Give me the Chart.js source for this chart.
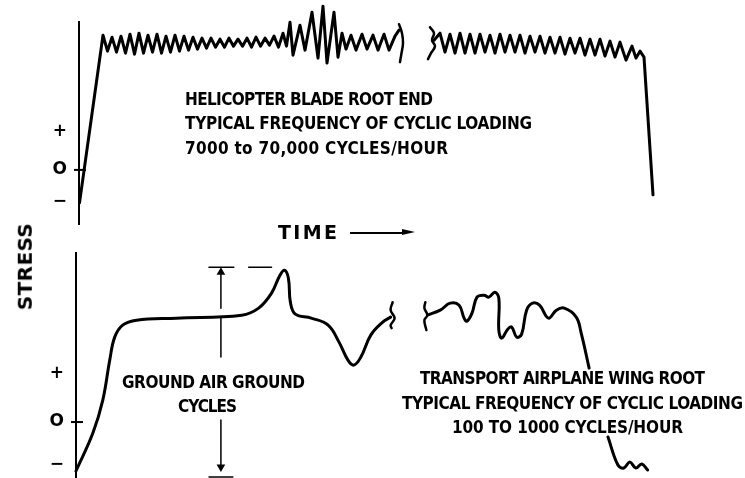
<!DOCTYPE html>
<html>
<head>
<meta charset="utf-8">
<script src="https://cdn.jsdelivr.net/npm/chart.js@4.4.1/dist/chart.umd.min.js"></script>
<style>
html,body{margin:0;padding:0;background:#fff;width:745px;height:478px;overflow:hidden;position:relative}
canvas{position:absolute;left:0}
</style>
</head>
<body>
<canvas id="heli" width="745" height="247" style="top:0"></canvas>
<canvas id="wing" width="745" height="269" style="top:231px"></canvas>
<script>
// ---------- DATA (time units, stress units; schematic values) ----------
const tickLabels = ['+', 'O', '\u2212'];
const heliTickValues = [3.8, 0, -3.2];
const wingTickValues = [4.9, 0, -4.3];

// Helicopter blade root end: rise, cyclic loading, break, cyclic loading, drop
const heliLeft = [[0.5,-3.3],[24,13.5],
 [28.5,11.9],[33,13.3],[37.5,11.8],[42,13.4],[46.5,11.7],[51,13.6],[55.5,11.6],[60,13.7],[64.5,11.7],[69,13.5],
 [73.5,11.8],[78,13.6],[82.5,11.7],[87,13.4],[91.5,11.8],[96,13.5],[100.5,11.9],[105,13.4],[109.5,12.0],[114,13.3],
 [118.5,12.1],[123,13.2],[127.5,12.2],[132,13.2],[136.5,12.3],[141,13.1],[145.5,12.3],[150,13.2],[154.5,12.4],[159,13.1],
 [163.5,12.4],[168,13.2],[172.5,12.3],[177,13.3],[181.5,12.4],[186,13.2],[190.5,12.5],[195,13.4],[199.5,12.3],[204,13.7],[207.5,12.4],
 [211,14.8],[214,11.5],[221,14.5],[226,12.0],[233,15.8],[239,11.2],[244,16.4],[248,10.7],[255,15.8],[259,11.3],
 [263,13.7],[267,12.1],[272,13.5],[277,12.0],[283,13.6],[288,12.1],[294,13.5],[299,12.0],[305,13.6],[310,12.0],[316,13.4],[320,14.0]];
const heliBreakL = [[320,14.6],[323,13.7],[324,12.7],[322.5,11.7],[321,10.8]];
const heliBreakR = [[351,14.3],[355,13.7],[353,13.0],[356,12.4],[352,11.7],[349,11.1]];
const heliRight = [[355,13.0],[361,13.7],[366,11.8],[371,13.6],[376,11.7],[381,13.7],[386,11.7],[391,13.6],[396,11.7],
 [401,13.6],[406,11.8],[411,13.5],[416,11.7],[421,13.6],[426,11.8],[431,13.5],[436,11.8],[441,13.5],[446,11.7],[451,13.4],
 [456,11.8],[461,13.4],[466,11.7],[471,13.3],[476,11.7],[481,13.3],[486,11.6],[491,13.2],[496,11.7],[501,13.2],[506,11.5],
 [511,13.1],[516,11.5],[521,13.1],[526,11.4],[531,12.9],[536,11.3],[541,12.8],[547,11.0],[553,12.4],[557,11.2],[561,11.9],
 [565,11.3],[574,-2.5]];

// Transport airplane wing root
const wingLeft = [[0,-4.9],[17,-1.1],[27,2.2],[34,6.2],[39,8.5],[47,9.7],[61,10.2],[101,10.4],[167,10.7],[184,11.4],
 [197,12.9],[205,14.6],[210,15.2],[214,14.4],[216,12.0],[221,10.8],[237,10.4],[254,9.7],[265,8.0],[274,6.2],[280,5.7],
 [287,6.5],[297,8.7],[309,10.0],[317,10.5]];
const wingBreakL = [[319,12.0],[317,11.2],[321,10.4],[317,9.7],[318,9.4]];
const wingBreakR = [[352,12.0],[351,11.4],[354,10.7],[351,10.2],[353,9.2]];
const wingRight = [[354,10.7],[367,11.2],[377,11.9],[386,11.7],[391,10.4],[394,10.1],[399,10.9],[404,12.5],[411,12.7],
 [416,12.5],[422,13.0],[426,12.4],[426,9.2],[429,8.4],[435,9.3],[439,9.5],[444,8.5],[449,8.8],[454,11.2],[460,11.9],
 [467,11.7],[476,10.4],[484,11.2],[492,11.4],[504,10.5],[509,8.9],[517,5.4]];
const wingTail = [[536,-1.5],[546,-4.3],[552,-4.6],[558,-4.0],[564,-4.6],[570,-4.2],[576,-4.8]];

// Ground-air-ground cycle span marker
const gagTopCap = [[134,15.5],[159,15.5]];
const gagPeakLine = [[174,15.5],[197,15.5]];
const gagUpArrow = [[146,11.4],[146,15.0]];
const gagMidDash = [[146,10.4],[146,6.5]];
const gagDownArrow = [[146,0.2],[146,-4.5]];
const gagBottomCap = [[134,-5.5],[158,-5.5]];

// ---------- CHARTS ----------
const toXY = a => a.map(([x, y]) => ({x, y}));
function ds(points, extra) {
  return Object.assign({data: toXY(points), borderColor:'#000', borderWidth:3, pointRadius:0,
    tension:0, clip:false, fill:false, borderCapStyle:'round', borderJoinStyle:'round'}, extra || {});
}
const zeroTick = {
  id:'zeroTick',
  afterDraw(chart) {
    const y = chart.scales.y, ctx = chart.ctx, py = y.getPixelForValue(0);
    ctx.save(); ctx.strokeStyle = '#000'; ctx.lineWidth = 2;
    ctx.beginPath(); ctx.moveTo(y.right - 5, py); ctx.lineTo(y.right + 7, py); ctx.stroke(); ctx.restore();
  }
};
function yScale(min, max, width, values) {
  return {
    type:'linear', min, max,
    afterFit(s) { s.width = width; },
    afterBuildTicks(s) { s.ticks = values.map(v => ({value:v})); },
    ticks:{autoSkip:false, padding:12, color:'#000', font:{family:'DejaVu Sans', size:17, weight:'bold'},
      callback:(v, i) => tickLabels[i]},
    grid:{display:false, drawTicks:false},
    border:{display:true, color:'#000', width:2}
  };
}
function baseOpts(xMax, y, pad) {
  return {
    responsive:false, animation:false, events:[],
    layout:{padding:pad},
    plugins:{legend:{display:false}, tooltip:{enabled:false}},
    scales:{x:{type:'linear', display:false, min:0, max:xMax}, y}
  };
}

new Chart(document.getElementById('heli'), {
  type:'line',
  data:{datasets:[
    ds(heliLeft), ds(heliBreakL, {tension:0.4, borderWidth:2.5}),
    ds(heliBreakR, {tension:0.4, borderWidth:2.5}), ds(heliRight)
  ]},
  options: baseOpts(666, yScale(-5.5, 14.8, 79, heliTickValues), {top:22, bottom:22, left:0, right:0}),
  plugins:[zeroTick]
});

const arrowHead = rot => ({pointRadius:[0,5], pointStyle:'triangle', rotation:rot,
  pointBackgroundColor:'#000', pointBorderColor:'#000', pointBorderWidth:0, borderWidth:1.5});
new Chart(document.getElementById('wing'), {
  type:'line',
  data:{datasets:[
    ds(wingLeft, {tension:0.4}), ds(wingBreakL, {tension:0.4, borderWidth:2.5}),
    ds(wingBreakR, {tension:0.4, borderWidth:2.5}), ds(wingRight, {tension:0.4}), ds(wingTail, {tension:0.4}),
    ds(gagTopCap, {borderWidth:1.5}), ds(gagPeakLine, {borderWidth:1.5}),
    ds(gagUpArrow, arrowHead(0)), ds(gagMidDash, {borderWidth:1.5}),
    ds(gagDownArrow, arrowHead(180)), ds(gagBottomCap, {borderWidth:1.5})
  ]},
  options: baseOpts(669, yScale(-5.5, 16.9, 76, wingTickValues), {top:22, bottom:23, left:0, right:0}),
  plugins:[zeroTick]
});

// ---------- TEXT ----------
const NARROW = '"Liberation Sans Narrow","DejaVu Sans Condensed","Arial Narrow",sans-serif';
function addText(txt, x0, x1, cy, size, family, weight, rotate) {
  const el = document.createElement('div');
  el.textContent = txt;
  el.style.cssText = 'position:absolute;white-space:nowrap;color:#000;line-height:1;font:' +
    (weight || 'bold') + ' ' + size + 'px ' + family + ';';
  document.body.appendChild(el);
  const w0 = el.getBoundingClientRect().width;
  const n = [...txt].length;
  const target = x1 - x0;
  const ls = n > 1 ? (target - w0) / (n - 1) : 0;
  el.style.letterSpacing = ls + 'px';
  const capC = 0.485 * size;
  if (rotate) {
    const cx = cy, cyv = (x0 + x1) / 2;
    el.style.left = (cx - target / 2) + 'px';
    el.style.top = (cyv - capC) + 'px';
    el.style.transformOrigin = (target / 2) + 'px ' + capC + 'px';
    el.style.transform = 'rotate(-90deg)';
  } else {
    el.style.left = x0 + 'px';
    el.style.top = (cy - capC) + 'px';
  }
  return el;
}
addText('HELICOPTER BLADE ROOT END', 185, 433, 97.5, 17, NARROW);
addText('TYPICAL FREQUENCY OF CYCLIC LOADING', 185, 532, 121.5, 17, NARROW);
addText('7000 to 70,000 CYCLES/HOUR', 185, 448, 146.5, 17, NARROW);

addText('GROUND AIR GROUND', 122, 305, 380, 17, NARROW);
addText('CYCLES', 178, 237, 404, 17, NARROW);

addText('TRANSPORT AIRPLANE WING ROOT', 420, 705, 376.5, 17, NARROW);
addText('TYPICAL FREQUENCY OF CYCLIC LOADING', 402, 743, 401.5, 17, NARROW);
addText('100 TO 1000 CYCLES/HOUR', 452, 683, 425.5, 17, NARROW);

addText('TIME', 278, 337, 230.5, 19, '"DejaVu Sans",sans-serif', 'bold');
addText('STRESS', 223, 310, 22.5, 20, '"DejaVu Sans",sans-serif', 'bold', true);

// time arrow
const shaft = document.createElement('div');
shaft.style.cssText = 'position:absolute;left:350px;top:231.5px;width:54px;height:2px;background:#000';
document.body.appendChild(shaft);
const head = document.createElement('div');
head.style.cssText = 'position:absolute;left:402px;top:229px;width:0;height:0;border-left:13px solid #000;border-top:3.5px solid transparent;border-bottom:3.5px solid transparent';
document.body.appendChild(head);
</script>
</body>
</html>
